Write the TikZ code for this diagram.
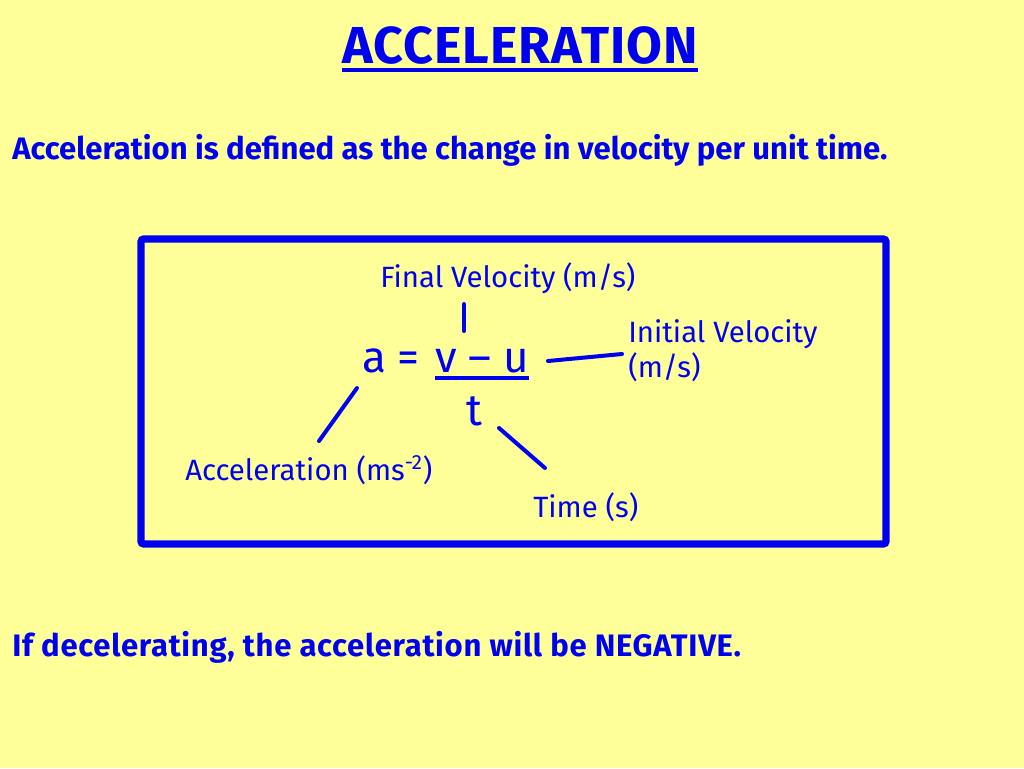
\documentclass[tikz,border=0pt]{standalone}
\usepackage{fontspec}
\setmainfont{Fira Sans}
\usetikzlibrary{positioning}
\definecolor{slideyellow}{HTML}{FFFF99}
\definecolor{inkblue}{HTML}{0000F0}
\tikzset{
  ink/.style={inkblue,line width=3pt,line cap=round},
  headtext/.style={text=inkblue,inner sep=0pt,anchor=base,font=\bfseries\fontsize{39}{44}\selectfont\addfontfeature{LetterSpace=2}},
  bodytext/.style={text=inkblue,inner sep=0pt,anchor=base west,font=\bfseries\fontsize{23.3}{28}\selectfont},
  lbl/.style={text=inkblue,inner sep=0pt,anchor=base west,font=\fontsize{22}{26}\selectfont},
  eqn/.style={text=inkblue,inner sep=0pt,anchor=base west,font=\fontsize{33}{38}\selectfont},
}

\begin{document}
\begin{tikzpicture}[x=0.75pt,y=-0.75pt]
\fill[slideyellow] (0,0) rectangle (1024,768);
\useasboundingbox (0,0) rectangle (1024,768);
% heading and text
\node[headtext] (title) at (520,63) {ACCELERATION};
\draw[ink,line width=3.2pt,line cap=butt] ([yshift=-5.4pt]title.base west) -- ([yshift=-5.4pt]title.base east);
\node[bodytext] (defn) at (12,159) {Acceleration is defined as the change in velocity per unit time.};
\node[bodytext,font=\bfseries\fontsize{23.3}{28}\selectfont\addfontfeature{LetterSpace=2.3}] (neg) at (12,656) {If decelerating, the acceleration will be NEGATIVE.};
% formula box
\draw[inkblue,line width=5.4pt,rounded corners=2pt] (141,239) rectangle (886,544);
\node[eqn] (aeq) at (362,372) {a =};
\node[eqn] (vu) at (435,372) {v – u};
\draw[ink,line cap=butt] ([yshift=-4.5pt]vu.base west) -- ([yshift=-4.5pt]vu.base east);
\node[eqn] (t) at (466,425) {t};
% labels
\node[lbl] (final) at (380,287) {Final Velocity (m/s)};
\node[lbl] (init) at (628,342) {Initial Velocity};
\node[lbl] (initu) at (628,377) {(m/s)};
\node[lbl] (accl) at (185,480) {Acceleration (ms\textsuperscript{-2})};
\node[lbl] (time) at (533,517) {Time (s)};
% pointer strokes
\coordinate (F1) at (464,304);
\coordinate (F2) at (464,331);
\coordinate (I1) at (548,361);
\coordinate (I2) at (622,354);
\coordinate (A1) at (357,388);
\coordinate (A2) at (319,441);
\coordinate (T1) at (499,428);
\coordinate (T2) at (545,468);
\draw[ink] (F1) -- (F2);
\draw[ink] (I1) -- (I2);
\draw[ink] (A1) -- (A2);
\draw[ink] (T1) -- (T2);
\end{tikzpicture}
\end{document}
